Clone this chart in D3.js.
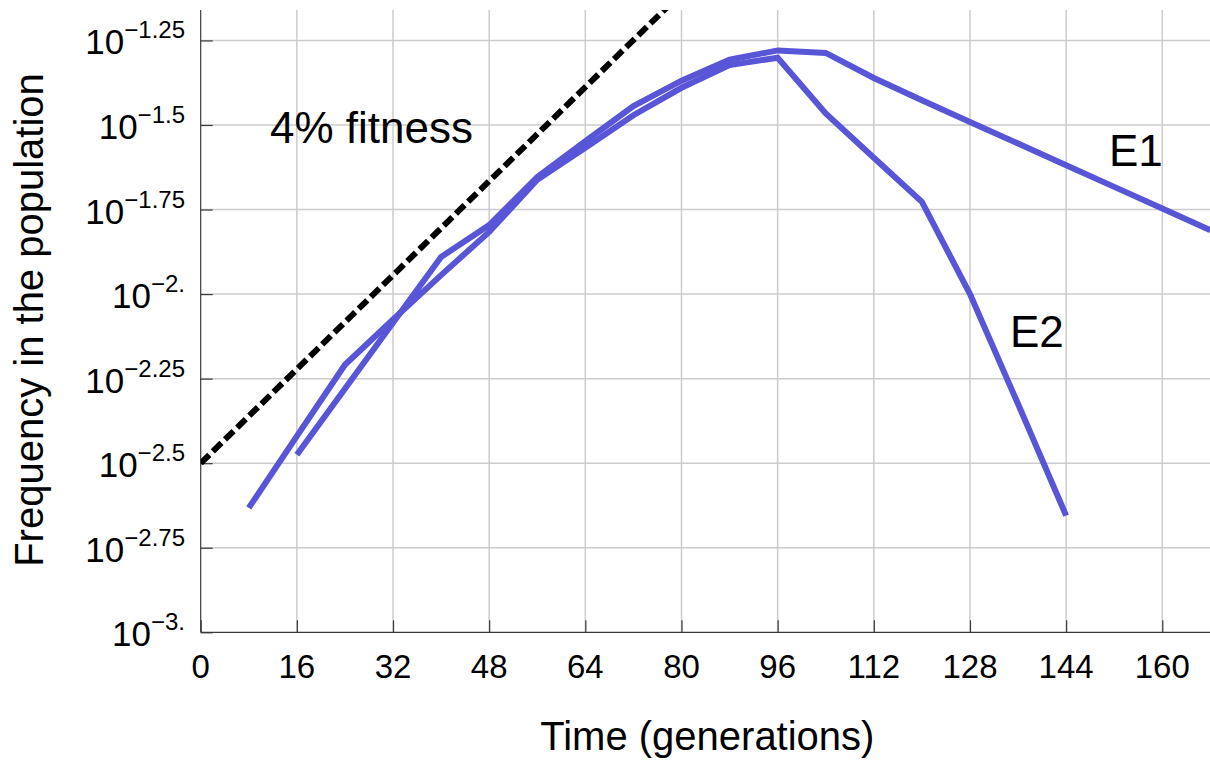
<!DOCTYPE html>
<html>
<head>
<meta charset="utf-8">
<script src="https://cdn.jsdelivr.net/npm/d3@7"></script>
<style>
  html, body { margin: 0; padding: 0; background: #fff; }
  svg { display: block; font-family: "Liberation Sans", Arial, Helvetica, sans-serif; }
</style>
</head>
<body>
<svg id="chart" width="1210" height="761"></svg>
<script>
// Sampling times (generations) and log10 frequency of each lineage
const e1Gen = [16, 24, 32, 40, 48, 56, 64, 72, 80, 88, 96, 104, 112, 120, 128, 136, 144, 152, 160, 168];
const e1Log = [-2.475, -2.28, -2.085, -1.89, -1.796, -1.654, -1.548, -1.444, -1.369, -1.307, -1.2795, -1.287,
               -1.361, -1.427, -1.491, -1.555, -1.619, -1.683, -1.747, -1.811];

const e2Gen = [8, 16, 24, 32, 40, 48, 56, 64, 72, 80, 88, 96, 104, 112, 120, 128, 136, 144];
const e2Log = [-2.632, -2.42, -2.209, -2.075, -1.944, -1.816, -1.662, -1.567, -1.471, -1.39, -1.323, -1.301,
               -1.466, -1.597, -1.727, -2.0, -2.325, -2.655];

// Reference growth for a 4% fitness advantage
const fitnessGen = [0, 80];
const fitnessLog = [-2.5, -1.11];

// Axis ticks
const xTicks = [0, 16, 32, 48, 64, 80, 96, 112, 128, 144, 160];
const yTickExps = [-3, -2.75, -2.5, -2.25, -2, -1.75, -1.5, -1.25];
const yTickLabels = ["\u22123.", "\u22122.75", "\u22122.5", "\u22122.25", "\u22122.", "\u22121.75", "\u22121.5", "\u22121.25"];

const seriesNames = ["E1", "E2"];
const fitnessLabel = "4% fitness";
const xTitle = "Time (generations)";
const yTitle = "Frequency in the population";

// ---- layout ----
const plot = { left: 200.7, right: 1210, top: 10, bottom: 632.3 };
const lineColor = "#5856d6";
const gridColor = "#cccccc";
const axisColor = "#3a3a3a";

const svg = d3.select("#chart");

const x = d3.scaleLinear().domain([0, 168]).range([plot.left, plot.left + 168 * 6.01]);
const y = d3.scaleLog().domain([1e-3, Math.pow(10, -1.16)]).range([plot.bottom, plot.top]);

const toPoints = (gens, logs) => gens.map((g, i) => [g, Math.pow(10, logs[i])]);

svg.append("defs").append("clipPath").attr("id", "plotClip")
  .append("rect")
  .attr("x", plot.left).attr("y", plot.top)
  .attr("width", plot.right - plot.left).attr("height", plot.bottom - plot.top);

// grid
const grid = svg.append("g").attr("class", "grid");
grid.selectAll("line.v").data(xTicks.filter(d => d > 0)).join("line")
  .attr("class", "v")
  .attr("x1", d => x(d)).attr("x2", d => x(d))
  .attr("y1", plot.top).attr("y2", plot.bottom)
  .attr("stroke", gridColor).attr("stroke-width", 1.5);
grid.selectAll("line.h").data(yTickExps.filter(d => d > -3)).join("line")
  .attr("class", "h")
  .attr("x1", plot.left).attr("x2", plot.right)
  .attr("y1", d => y(Math.pow(10, d))).attr("y2", d => y(Math.pow(10, d)))
  .attr("stroke", gridColor).attr("stroke-width", 1.5);

// axes (inward ticks)
const xAxis = d3.axisBottom(x).tickValues(xTicks).tickSizeInner(-12).tickSizeOuter(0).tickFormat("");
const gx = svg.append("g").attr("transform", `translate(0,${plot.bottom})`).call(xAxis);
gx.select(".domain").attr("d", `M${plot.left},0H${plot.right}`);
gx.selectAll("path, line").attr("stroke", axisColor).attr("stroke-width", 1.2);

const yAxis = d3.axisLeft(y).tickValues(yTickExps.map(e => Math.pow(10, e))).tickSizeInner(-12).tickSizeOuter(0).tickFormat("");
const gy = svg.append("g").attr("transform", `translate(${plot.left},0)`).call(yAxis);
gy.select(".domain").attr("d", `M0,${plot.top}V${plot.bottom}`);
gy.selectAll("path, line").attr("stroke", axisColor).attr("stroke-width", 1.2);

// tick labels
svg.append("g").selectAll("text").data(xTicks).join("text")
  .attr("x", d => x(d)).attr("y", plot.bottom + 46)
  .attr("text-anchor", "middle")
  .attr("font-size", 33).attr("fill", "#000")
  .text(d => d);

const yl = svg.append("g").selectAll("text").data(yTickExps).join("text")
  .attr("x", 185).attr("y", d => y(Math.pow(10, d)) + 14)
  .attr("text-anchor", "end")
  .attr("fill", "#000");
yl.append("tspan").attr("font-size", 35).text("10");
yl.append("tspan").attr("font-size", 24).attr("dy", -16).text((d, i) => yTickLabels[i]);

// axis titles
svg.append("text")
  .attr("x", (plot.left + plot.right) / 2 + 2).attr("y", 750)
  .attr("text-anchor", "middle").attr("font-size", 40).attr("fill", "#000")
  .text(xTitle);
svg.append("text")
  .attr("transform", "translate(43,320) rotate(-90)")
  .attr("text-anchor", "middle").attr("font-size", 40).attr("fill", "#000")
  .text(yTitle);

// data lines
const line = d3.line().x(d => x(d[0])).y(d => y(d[1]));
const marks = svg.append("g").attr("clip-path", "url(#plotClip)");

marks.append("path")
  .datum(toPoints(fitnessGen, fitnessLog))
  .attr("d", line)
  .attr("fill", "none").attr("stroke", "#000")
  .attr("stroke-width", 6).attr("stroke-dasharray", "12,5");

marks.append("path")
  .datum(toPoints(e2Gen, e2Log))
  .attr("d", line)
  .attr("fill", "none").attr("stroke", lineColor).attr("stroke-width", 6);

marks.append("path")
  .datum(toPoints(e1Gen, e1Log))
  .attr("d", line)
  .attr("fill", "none").attr("stroke", lineColor).attr("stroke-width", 6);

// annotations
const ann = svg.append("g").attr("font-size", 44).attr("fill", "#000");
ann.append("text").attr("x", 270).attr("y", 143).text(fitnessLabel);
ann.append("text").attr("x", 1109).attr("y", 166).text(seriesNames[0]);
ann.append("text").attr("x", 1010).attr("y", 347).text(seriesNames[1]);
</script>
</body>
</html>
